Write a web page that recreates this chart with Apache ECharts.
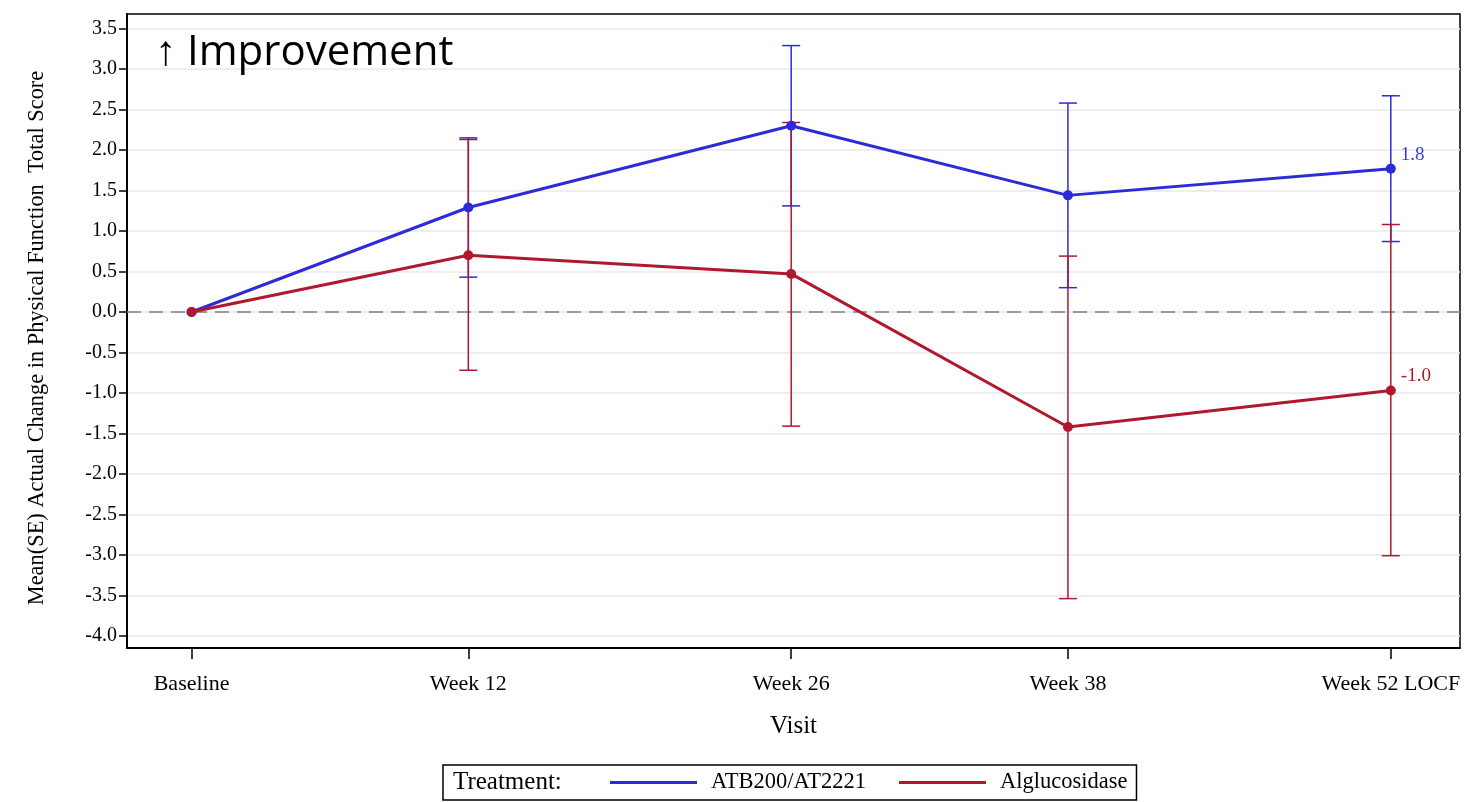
<!DOCTYPE html>
<html>
<head>
<meta charset="utf-8">
<script src="https://cdn.jsdelivr.net/npm/echarts@6/dist/echarts.min.js"></script>
<style>
  html, body { margin: 0; padding: 0; background: #fff; }
  #chart { width: 1484px; height: 802px; }
</style>
</head>
<body>
<div id="chart"></div>
<script>
// visits (weeks from baseline) and their labels
var weeks = [0, 12, 26, 38, 52];
var visitLabels = ["Baseline", "Week 12", "Week 26", "Week 38", "Week 52 LOCF"];
var yTicks = [-4, -3.5, -3, -2.5, -2, -1.5, -1, -0.5, 0, 0.5, 1, 1.5, 2, 2.5, 3, 3.5];

// ATB200/AT2221: mean and mean-SE / mean+SE
var atbMean = [0, 1.29, 2.30, 1.44, 1.77];
var atbLow = [null, 0.43, 1.31, 0.30, 0.87];
var atbHigh = [null, 2.15, 3.29, 2.58, 2.67];

// Alglucosidase
var algMean = [0, 0.70, 0.47, -1.42, -0.97];
var algLow = [null, -0.72, -1.41, -3.54, -3.01];
var algHigh = [null, 2.13, 2.34, 0.69, 1.08];

var blue = "#2b2bd9";
var red = "#b0182e";
var serif = "Liberation Serif";

function pairs(m) {
  return weeks.map(function (w, i) { return [w, m[i]]; });
}
function bars(lo, hi) {
  var out = [];
  weeks.forEach(function (w, i) {
    if (lo[i] != null) out.push([w, lo[i], hi[i]]);
  });
  return out;
}
function errorBar(color) {
  return function (params, api) {
    var x = api.value(0);
    var top = api.coord([x, api.value(2)]);
    var bot = api.coord([x, api.value(1)]);
    var w = 9;
    var st = { stroke: color, lineWidth: 1.5 };
    return {
      type: "group",
      children: [
        { type: "line", shape: { x1: top[0], y1: top[1], x2: bot[0], y2: bot[1] }, style: st },
        { type: "line", shape: { x1: top[0] - w, y1: top[1], x2: top[0] + w, y2: top[1] }, style: st },
        { type: "line", shape: { x1: bot[0] - w, y1: bot[1], x2: bot[0] + w, y2: bot[1] }, style: st }
      ]
    };
  };
}
function lastLabel(color) {
  return {
    show: true,
    position: "right",
    distance: 5,
    offset: [0, -14],
    color: color,
    fontFamily: serif,
    fontSize: 19,
    formatter: function (p) {
      return p.dataIndex === weeks.length - 1 ? p.value[1].toFixed(1) : "";
    }
  };
}

var myChart = echarts.init(document.getElementById("chart"));
var option = {
  animation: false,
  title: {
    text: "\u2191 Improvement",
    left: 150,
    top: 27,
    textStyle: { fontFamily: "Open Sans", fontWeight: "normal", fontSize: 42, color: "#000" }
  },
  grid: {
    left: 127, right: 24, top: 14, bottom: 154,
    show: true, borderColor: "#000", borderWidth: 1.5
  },
  legend: {
    data: ["ATB200/AT2221", "Alglucosidase"],
    left: 443,
    top: 765,
    icon: "rect",
    itemWidth: 87,
    itemHeight: 3,
    itemGap: 33,
    padding: [6, 9, 6, 167],
    borderColor: "#000",
    borderWidth: 1.5,
    textStyle: { fontFamily: serif, fontSize: 22.5, color: "#000", padding: [0, 0, 0, 9] }
  },
  graphic: [
    {
      type: "text",
      left: 453,
      top: 770,
      style: { text: "Treatment:", font: "25px 'Liberation Serif'", fill: "#000" }
    }
  ],
  xAxis: {
    type: "value",
    min: -2.8,
    max: 55,
    name: "Visit",
    nameLocation: "middle",
    nameGap: 66,
    nameTextStyle: { fontFamily: serif, fontSize: 25, color: "#000" },
    axisLine: { onZero: false, lineStyle: { color: "#000", width: 2 } },
    axisTick: { customValues: weeks, length: 11, lineStyle: { color: "#000", width: 1.5 } },
    axisLabel: {
      customValues: weeks,
      margin: 25,
      fontFamily: serif,
      fontSize: 22,
      color: "#000",
      formatter: function (v) { return visitLabels[weeks.indexOf(v)]; }
    },
    splitLine: { show: false }
  },
  yAxis: {
    type: "value",
    min: -4.15,
    max: 3.68,
    name: "Mean(SE) Actual Change in Physical Function  Total Score",
    nameLocation: "middle",
    nameGap: 79,
    nameTextStyle: { fontFamily: serif, fontSize: 22.4, color: "#000", padding: [0, 14, 0, 0] },
    axisLine: { show: true, onZero: false, lineStyle: { color: "#000", width: 2 } },
    axisTick: { show: true, customValues: yTicks, length: 8, lineStyle: { color: "#000", width: 1.5 } },
    axisLabel: {
      customValues: yTicks,
      margin: 10,
      fontFamily: serif,
      fontSize: 20,
      color: "#000",
      formatter: function (v) { return v.toFixed(1); }
    },
    splitLine: { show: true, lineStyle: { color: "#e8e8e8", width: 1.5 } }
  },
  series: [
    {
      name: "ATB200/AT2221 SE",
      type: "custom",
      renderItem: errorBar(blue),
      encode: { x: 0, y: [1, 2] },
      data: bars(atbLow, atbHigh),
      z: 2
    },
    {
      name: "Alglucosidase SE",
      type: "custom",
      renderItem: errorBar(red),
      encode: { x: 0, y: [1, 2] },
      data: bars(algLow, algHigh),
      z: 2
    },
    {
      name: "ATB200/AT2221",
      type: "line",
      data: pairs(atbMean),
      color: blue,
      symbol: "circle",
      symbolSize: 10,
      lineStyle: { width: 3 },
      label: lastLabel("#3b3bd9"),
      z: 4,
      markLine: {
        silent: true,
        symbol: "none",
        label: { show: false },
        lineStyle: { color: "#808080", type: [14, 8], width: 1.5 },
        data: [{ yAxis: 0 }],
        z: 1
      }
    },
    {
      name: "Alglucosidase",
      type: "line",
      data: pairs(algMean),
      color: red,
      symbol: "circle",
      symbolSize: 10,
      lineStyle: { width: 3 },
      label: lastLabel("#b0182e"),
      z: 5
    }
  ]
};
myChart.setOption(option);
</script>
</body>
</html>
